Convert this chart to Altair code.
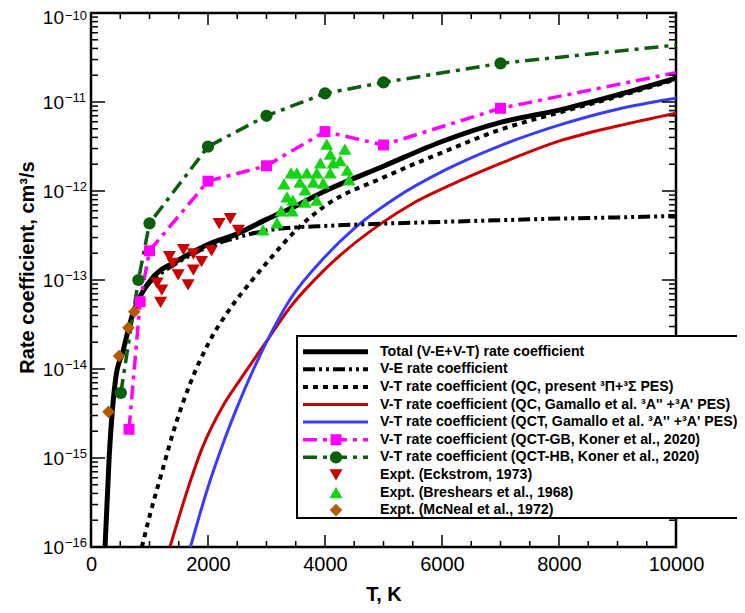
import altair as alt
import pandas as pd

# ---------------- data ----------------
# Total (V-E + V-T) rate coefficient
T_total = [240, 310, 430, 550, 600, 700, 800, 1000, 1500, 2000, 2500, 3000, 3500, 4000, 5000, 6000, 7000, 8000, 9000, 10000]
k_total = [1e-16, 1e-15, 8.5e-15, 1.6e-14, 2.2e-14, 3.9e-14, 5.8e-14, 9.6e-14, 1.68e-13, 2.5e-13, 3.3e-13, 4.8e-13, 6.8e-13, 1.0e-12, 1.9e-12, 3.6e-12, 5.9e-12, 8.1e-12, 1.2e-11, 1.85e-11]

# V-E rate coefficient
T_ve = [900, 1000, 1500, 2000, 2500, 3000, 3500, 4000, 5000, 6000, 7000, 8000, 9000, 10000]
k_ve = [8e-14, 9.3e-14, 1.6e-13, 2.35e-13, 3.0e-13, 3.6e-13, 3.9e-13, 4.05e-13, 4.3e-13, 4.5e-13, 4.7e-13, 4.9e-13, 5.05e-13, 5.25e-13]

# V-T (QC, present PES)
T_qc = [870, 1000, 1200, 1400, 1700, 2000, 2400, 2700, 3000, 3500, 4000, 5000, 6000, 7000, 8000, 9000, 10000]
k_qc = [1e-16, 2.2e-16, 6.5e-16, 1.9e-15, 7e-15, 1.9e-14, 5e-14, 9e-14, 1.55e-13, 3.6e-13, 6.8e-13, 1.42e-12, 2.7e-12, 4.9e-12, 7.6e-12, 1.15e-11, 1.8e-11]

# V-T (QC, Gamallo et al.)
T_qcg = [1350, 1650, 1900, 2250, 2550, 3000, 3400, 4000, 4950, 5500, 6150, 7000, 8000, 9000, 10000]
k_qcg = [1e-16, 4.4e-16, 1.29e-15, 3.8e-15, 7.6e-15, 2.04e-14, 4.9e-14, 1.32e-13, 4.27e-13, 7.24e-13, 1.17e-12, 2.04e-12, 3.63e-12, 5.37e-12, 7.5e-12]

# V-T (QCT, Gamallo et al.)
T_qct = [1700, 2000, 2250, 2550, 2850, 3100, 3400, 4000, 4500, 5200, 6100, 7000, 8000, 9000, 10000]
k_qct = [1e-16, 4.7e-16, 1.41e-15, 4.5e-15, 1.26e-14, 2.7e-14, 6.0e-14, 1.82e-13, 3.8e-13, 8.3e-13, 1.78e-12, 3.24e-12, 5.5e-12, 8.3e-12, 1.1e-11]

# QCT-GB, Koner et al. 2020
T_gb = [650, 840, 1000, 2000, 3000, 4000, 5000, 7000, 10000]
k_gb = [2.1e-15, 5.7e-14, 2.13e-13, 1.29e-12, 1.92e-12, 4.65e-12, 3.29e-12, 8.5e-12, 2.14e-11]

# QCT-HB, Koner et al. 2020
T_hb = [510, 810, 1000, 2000, 3000, 4000, 5000, 7000, 10000]
k_hb = [5.4e-15, 1.0e-13, 4.33e-13, 3.15e-12, 7.0e-12, 1.25e-11, 1.66e-11, 2.72e-11, 4.36e-11]

# Expt. Eckstrom 1973
T_eck = [2190, 2380, 2520, 1340, 1580, 1750, 2060, 1400, 1890, 1490, 1750, 1660, 1130, 1210, 1190]
k_eck = [4.3e-13, 4.9e-13, 3.6e-13, 1.83e-13, 2.2e-13, 1.96e-13, 2.13e-13, 1.54e-13, 1.61e-13, 1.14e-13, 1.29e-13, 8.8e-14, 9.2e-14, 7.7e-14, 5.6e-14]

# Expt. Breshears et al. 1968
T_bre = [2940, 3180, 3250, 3350, 3300, 3420, 3450, 3520, 3570, 3660, 3690, 3800, 3860, 3860, 3920, 3970, 4030, 4090, 4090, 4140, 4260, 4340, 4380, 4410, 3660, 3440]
k_bre = [3.65e-13, 4.4e-13, 6.0e-13, 8.6e-13, 1.2e-12, 1.6e-12, 7.9e-13, 1.6e-12, 1.26e-12, 1.03e-12, 1.6e-12, 1.26e-12, 1.6e-12, 7.9e-13, 2.07e-12, 1.23e-12, 3.37e-12, 2.6e-12, 1.6e-12, 2.07e-12, 2.2e-12, 2.96e-12, 1.72e-12, 1.33e-12, 7.5e-13, 6.0e-13]

# Expt. McNeal et al. 1972
T_mcn = [300, 480, 640, 740]
k_mcn = [3.3e-15, 1.4e-14, 2.9e-14, 4.4e-14]

x_ticks = [0, 2000, 4000, 6000, 8000, 10000]
y_ticks = [1e-16, 1e-15, 1e-14, 1e-13, 1e-12, 1e-11, 1e-10]
y_tick_exps = ["-16", "-15", "-14", "-13", "-12", "-11", "-10"]

legend_labels = [
    "Total (V-E+V-T) rate coefficient",
    "V-E rate coefficient",
    "V-T rate coefficient (QC, present \u00b3\u03a0+\u00b3\u03a3 PES)",
    "V-T rate coefficient (QC, Gamallo et al. \u00b3A'' +\u00b3A' PES)",
    "V-T rate coefficient (QCT, Gamallo et al. \u00b3A'' +\u00b3A' PES)",
    "V-T rate coefficient (QCT-GB, Koner et al., 2020)",
    "V-T rate coefficient (QCT-HB, Koner et al., 2020)",
    "Expt. (Eckstrom, 1973)",
    "Expt. (Breshears et al., 1968)",
    "Expt. (McNeal et al., 1972)",
]

# ---------------- layout / style ----------------
W, H = 585, 534
FONT = "Liberation Sans"
RED, BLUE, MAG, DGREEN, LGREEN, BROWN = "#cc0000", "#3a3aff", "#ff00ff", "#0a5f0a", "#14d414", "#b35900"

x_scale = alt.Scale(domain=[0, 10000], nice=False, zero=False)
y_scale = alt.Scale(type="log", domain=[1e-16, 1e-10], nice=False)

x_axis = alt.Axis(values=x_ticks, format="d", title="T, K", grid=False, ticks=False, domain=False,
                  labelFont=FONT, labelFontSize=20, labelColor="black", labelPadding=7,
                  labelFlush=False, labelOverlap=False,
                  titleFont=FONT, titleFontSize=20, titleFontWeight="bold", titleColor="black",
                  titlePadding=10)
y_axis = alt.Axis(values=y_ticks, title="Rate coefficient, cm\u00b3/s", grid=False, ticks=False, domain=False,
                  labels=False,
                  titleFont=FONT, titleFontSize=20, titleFontWeight="bold", titleColor="black",
                  titleX=-54, titleY=254)


def xy(xf="T", yf="k"):
    return dict(x=alt.X(f"{xf}:Q", scale=x_scale, axis=x_axis),
                y=alt.Y(f"{yf}:Q", scale=y_scale, axis=y_axis))


def df(T, k):
    return pd.DataFrame({"T": T, "k": k})


layers = []


def line(T, k, color, width, dash=None, interp="linear"):
    kw = dict(color=color, strokeWidth=width, clip=True, interpolate=interp)
    if dash:
        kw["strokeDash"] = dash
    layers.append(alt.Chart(df(T, k)).mark_line(**kw).encode(**xy()))


def pts(T, k, shape, color, size):
    layers.append(alt.Chart(df(T, k)).mark_point(shape=shape, filled=True, color=color, size=size,
                                                 opacity=1, clip=True).encode(**xy()))


DASH_VE = [12, 4, 3, 4, 3, 4]
DASH_QC = [5, 5]
DASH_GB = [14, 6, 4, 6]
DASH_HB = [14, 6, 4, 6]
S_SQ, S_CI, S_TRI, S_DIA = 120, 150, 170, 160

line(T_qcg, k_qcg, RED, 3, interp="monotone")
line(T_qct, k_qct, BLUE, 3, interp="monotone")
line(T_qc, k_qc, "black", 4, DASH_QC, interp="monotone")
line(T_ve, k_ve, "black", 4, DASH_VE, interp="monotone")
line(T_total, k_total, "black", 5, interp="monotone")
line(T_gb, k_gb, MAG, 3.5, DASH_GB)
line(T_hb, k_hb, DGREEN, 3.5, DASH_HB)
pts(T_gb[:-1], k_gb[:-1], "square", MAG, S_SQ)
pts(T_hb[:-1], k_hb[:-1], "circle", DGREEN, S_CI)
pts(T_bre, k_bre, "triangle-up", LGREEN, S_TRI)
pts(T_eck, k_eck, "triangle-down", RED, S_TRI)
pts(T_mcn, k_mcn, "diamond", BROWN, S_DIA)

# ---------------- inward ticks ----------------
x_minor = [v for v in range(500, 10000, 500) if v % 2000]
y_minor = [m * 10.0 ** e for e in range(-16, -10) for m in range(2, 10)]


def xticks(vals, length):
    d = pd.DataFrame({"T": vals})
    for y0, y1 in [(H, H - length), (0, length)]:
        layers.append(alt.Chart(d).mark_rule(color="black", strokeWidth=1.5).encode(
            x=alt.X("T:Q", scale=x_scale, axis=x_axis), y=alt.value(y0), y2=alt.value(y1)))


def yticks(vals, length):
    d = pd.DataFrame({"k": vals})
    for x0, x1 in [(0, length), (W, W - length)]:
        layers.append(alt.Chart(d).mark_rule(color="black", strokeWidth=1.5).encode(
            y=alt.Y("k:Q", scale=y_scale, axis=y_axis), x=alt.value(x0), x2=alt.value(x1)))


xticks(x_ticks, 12)
xticks(x_minor, 6)
yticks(y_ticks, 14)
yticks(y_minor, 7)

# y tick labels: "10" with a raised exponent (top one nudged down to stay inside the page)
ylab = pd.DataFrame({"k": y_ticks, "e": [s.replace("-", "\u2212") for s in y_tick_exps]})
for part, dy10, dyexp in [(ylab.iloc[:-1], 1, 0), (ylab.iloc[-1:], 5, 7)]:
    layers.append(alt.Chart(part).mark_text(text="10", align="right", baseline="middle", font=FONT,
                                            fontSize=19, color="black", dy=dy10).encode(
        y=alt.Y("k:Q", scale=y_scale, axis=y_axis), x=alt.value(-27)))
    layers.append(alt.Chart(part).mark_text(align="left", baseline="alphabetic", font=FONT,
                                            fontSize=13, color="black", dy=dyexp).encode(
        y=alt.Y("k:Q", scale=y_scale, axis=y_axis), x=alt.value(-26), text="e:N"))

# ---------------- legend ----------------
one = pd.DataFrame({"a": [0]})
BX0, BX1, BY0, BY1 = 206, 660, 323, 505
layers.append(alt.Chart(one).mark_rect(fill="white", stroke="black", strokeWidth=2).encode(
    x=alt.value(BX0), x2=alt.value(BX1), y=alt.value(BY0), y2=alt.value(BY1)))

row_y0, row_dy = 338.7, 17.6
LX0, LX1, MX, TX = 212, 277, 245, 289
styles = [
    ("black", 5, None, None),
    ("black", 4, DASH_VE, None),
    ("black", 4, DASH_QC, None),
    (RED, 3, None, None),
    (BLUE, 3, None, None),
    (MAG, 3.5, DASH_GB, ("square", MAG, S_SQ)),
    (DGREEN, 3.5, DASH_HB, ("circle", DGREEN, S_CI)),
    (None, 0, None, ("triangle-down", RED, S_TRI)),
    (None, 0, None, ("triangle-up", LGREEN, S_TRI)),
    (None, 0, None, ("diamond", BROWN, S_DIA)),
]
for i, (lab, (col, w, dash, mk)) in enumerate(zip(legend_labels, styles)):
    ry = row_y0 + row_dy * i
    if col is not None:
        kw = dict(color=col, strokeWidth=w)
        if dash:
            kw["strokeDash"] = dash
        layers.append(alt.Chart(one).mark_rule(**kw).encode(
            x=alt.value(LX0), x2=alt.value(LX1), y=alt.value(ry)))
    if mk is not None:
        shape, mcol, msize = mk
        layers.append(alt.Chart(one).mark_point(shape=shape, filled=True, color=mcol, size=msize,
                                                opacity=1).encode(x=alt.value(MX), y=alt.value(ry)))
    layers.append(alt.Chart(one).mark_text(text=lab, align="left", baseline="middle", font=FONT,
                                           fontSize=14.2, fontWeight="bold", color="black").encode(
        x=alt.value(TX), y=alt.value(ry)))

chart = alt.layer(*layers).properties(
    width=W, height=H,
    autosize=alt.AutoSizeParams(type="none"),
    padding={"left": 83, "top": 5, "right": 61, "bottom": 58},
).configure_view(stroke="black", strokeWidth=2.5)

chart.save("out.html", embed_options={"renderer": "svg", "actions": False})
